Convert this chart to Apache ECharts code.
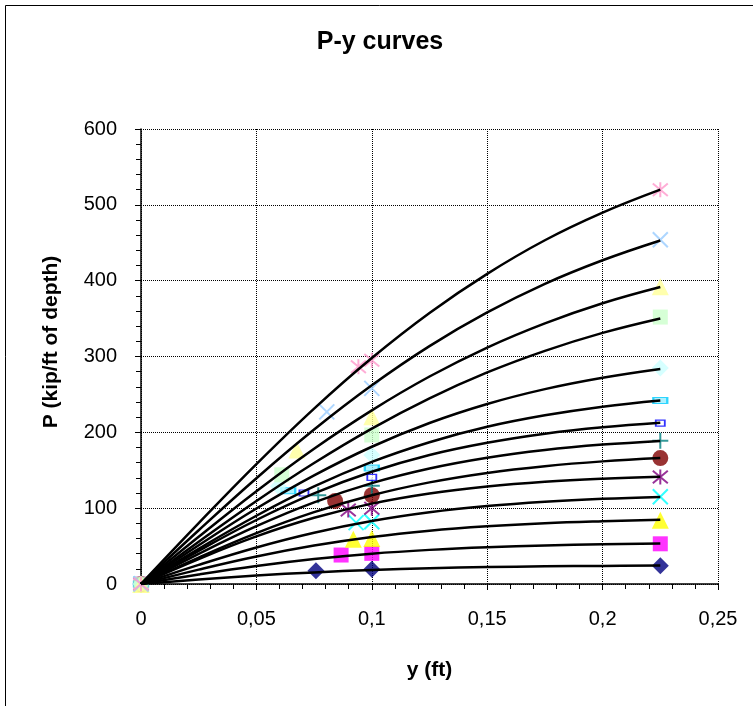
<!DOCTYPE html>
<html>
<head>
<meta charset="utf-8">
<title>P-y curves</title>
<script src="https://cdn.jsdelivr.net/npm/echarts@6/dist/echarts.min.js"></script>
<style>
  html, body { margin: 0; padding: 0; background: #fff; }
  #chart { width: 753px; height: 706px; }
</style>
</head>
<body>
<div id="chart"></div>
<script>
// deflection points (ft) at which the curves are read
const yDefl = [0, 0.025, 0.05, 0.075, 0.1, 0.125, 0.15, 0.175, 0.2, 0.225];

// P values (kip/ft) of each curve, bottom to top
const pCurve01 = [0, 5.8, 11.1, 15.3, 18.5, 20.8, 22.3, 23.3, 23.9, 24.3];
const pCurve02 = [0, 12.5, 23.7, 32.9, 40, 45.0, 48.5, 50.8, 52.3, 53.3];
const pCurve03 = [0, 19.0, 36.3, 50.7, 62, 70.3, 76.1, 80.2, 82.8, 84.7];
const pCurve04 = [0, 25.2, 48.2, 67.6, 83, 94.5, 102.7, 108.4, 112.3, 114.8];
const pCurve05 = [0, 33.0, 62.8, 87.3, 106, 119.4, 128.6, 134.8, 138.8, 141.4];
const pCurve06 = [0, 34.9, 67.1, 94.7, 117, 134.0, 146.5, 155.4, 161.7, 166];
const pCurve07 = [0, 39.6, 76.2, 107.6, 133, 152.3, 166.5, 176.7, 183.8, 188.7];
const pCurve08 = [0, 43.8, 84.4, 119.5, 148, 170.1, 186.2, 198.2, 206.6, 212.5];
const pCurve09 = [0, 46.4, 90.0, 128.6, 161, 187.0, 207.3, 222.4, 233.8, 241.9];
const pCurve10 = [0, 51.0, 99.5, 143.2, 181, 212.3, 237.4, 257.0, 272.0, 283.6];
const pCurve11 = [0, 55.7, 109.5, 159.6, 205, 244.9, 279.0, 307.5, 331.2, 350.2];
const pCurve12 = [0, 62.2, 122.3, 178.4, 229, 273.6, 311.8, 343.7, 370.2, 391.6];
const pCurve13 = [0, 70.9, 139.5, 203.7, 262, 313.7, 358.1, 395.8, 426.9, 453];
const pCurve14 = [0, 80.3, 158.1, 231.3, 298, 357.4, 409, 453.3, 489.7, 520];

// marker points of each series: origin, intermediate point, y = 0.1, y = 0.225
const midY   = [0.0758, 0.0867, 0.092, 0.0932, 0.0898, 0.0841, 0.0768, 0.0706, 0.0638, 0.0595, 0.061, 0.0675, 0.0805, 0.0942];
const midP   = [17.6, 38.2, 59, 80.9, 97.6, 109.5, 117, 120, 123, 129, 144, 176.7, 227, 286.6];
const tenthP = [19.3, 40.4, 60, 82, 99.8, 117, 129.6, 140.7, 153, 170, 196.5, 220.6, 258, 295];
const endY   = 0.225;
const endP   = [24, 53, 84, 115, 141, 166, 189, 212, 242, 285, 352, 392, 454, 520];

const curves = [pCurve01, pCurve02, pCurve03, pCurve04, pCurve05, pCurve06, pCurve07,
                pCurve08, pCurve09, pCurve10, pCurve11, pCurve12, pCurve13, pCurve14];

// excel style markers
const X_PATH = 'path://M0,0L10,10M10,0L0,10';
const STAR_PATH = 'path://M0,0L10,10M10,0L0,10M5,-1L5,11';
const PLUS_PATH = 'path://M5,0L5,10M0,5L10,5';

const markers = [
  { symbol: 'diamond', size: 17, fill: '#000080' },
  { symbol: 'rect', size: 15, fill: '#FF00FF' },
  { symbol: 'triangle', size: 17, fill: '#FFFF00' },
  { symbol: X_PATH, size: 15, stroke: '#00FFFF' },
  { symbol: STAR_PATH, size: 15, stroke: '#800080' },
  { symbol: 'circle', size: 16, fill: '#800000' },
  { symbol: PLUS_PATH, size: 16, stroke: '#008080' },
  { symbol: 'rect', size: [9, 6], fill: '#ffffff', border: '#0000FF' },
  { symbol: 'rect', size: [14, 6], fill: '#99EEFF', border: '#00CCFF' },
  { symbol: 'diamond', size: 17, fill: '#CCFFFF' },
  { symbol: 'rect', size: 15, fill: '#CCFFCC' },
  { symbol: 'triangle', size: 17, fill: '#FFFF99' },
  { symbol: X_PATH, size: 15, stroke: '#99CCFF' },
  { symbol: STAR_PATH, size: 15, stroke: '#FF99CC' }
];

const series = [];

markers.forEach(function (m, i) {
  const itemStyle = m.stroke
    ? { color: 'rgba(0,0,0,0)', borderColor: m.stroke, borderWidth: 2 }
    : { color: m.fill, borderColor: m.border || m.fill, borderWidth: m.border ? 1.5 : 0 };
  series.push({
    type: 'scatter',
    name: 'pts' + (i + 1),
    symbol: m.symbol,
    symbolSize: m.size,
    itemStyle: itemStyle,
    z: 2,
    data: [[0, 0], [midY[i], midP[i]], [0.1, tenthP[i]], [endY, endP[i]]]
  });
});

curves.forEach(function (c, i) {
  series.push({
    type: 'line',
    name: 'curve' + (i + 1),
    smooth: 0.4,
    showSymbol: false,
    lineStyle: { color: '#000', width: 2.5 },
    z: 3,
    data: yDefl.map(function (y, k) { return [y, c[k]]; })
  });
});

const chart = echarts.init(document.getElementById('chart'));

const labelFont = { color: '#000', fontFamily: 'Liberation Sans, Arial, sans-serif', fontSize: 20 };

chart.setOption({
  animation: false,
  backgroundColor: '#fff',
  grid: { left: 141, right: 35, top: 129, bottom: 122, containLabel: false },
  xAxis: {
    type: 'value',
    min: 0,
    max: 0.25,
    interval: 0.05,
    name: 'y (ft)',
    nameLocation: 'middle',
    nameGap: 76,
    nameTextStyle: { color: '#000', fontFamily: 'Liberation Sans, Arial, sans-serif', fontSize: 21, fontWeight: 'bold' },
    axisLine: { lineStyle: { color: '#000', width: 1.5 } },
    axisTick: { show: true, length: 6, lineStyle: { color: '#000' } },
    minorTick: { show: true, splitNumber: 5, length: 5, lineStyle: { color: '#000' } },
    splitLine: { show: true, lineStyle: { color: '#000', type: 'dotted', width: 1 } },
    axisLabel: Object.assign({ margin: 25, formatter: function (v) { return String(v).replace('.', ','); } }, labelFont)
  },
  yAxis: {
    type: 'value',
    min: 0,
    max: 600,
    interval: 100,
    axisLine: { show: true, lineStyle: { color: '#000', width: 1.5 } },
    axisTick: { show: true, length: 6, lineStyle: { color: '#000' } },
    minorTick: { show: true, splitNumber: 5, length: 5, lineStyle: { color: '#000' } },
    splitLine: { show: true, lineStyle: { color: '#000', type: 'dotted', width: 1 } },
    axisLabel: Object.assign({ margin: 24 }, labelFont)
  },
  graphic: [
    {
      type: 'rect',
      shape: { x: 5.5, y: 5.5, width: 800, height: 800 },
      style: { fill: 'none', stroke: '#000', lineWidth: 1 },
      silent: true
    },
    {
      type: 'text',
      x: 380,
      y: 42,
      style: {
        text: 'P-y curves',
        fill: '#000',
        font: 'bold 25px "Liberation Sans", Arial, sans-serif',
        textAlign: 'center',
        textVerticalAlign: 'middle'
      }
    },
    {
      type: 'text',
      x: 51,
      y: 342,
      rotation: Math.PI / 2,
      style: {
        text: 'P (kip/ft of depth)',
        fill: '#000',
        font: 'bold 21px "Liberation Sans", Arial, sans-serif',
        textAlign: 'center',
        textVerticalAlign: 'middle'
      }
    }
  ],
  series: series
});
</script>
</body>
</html>
